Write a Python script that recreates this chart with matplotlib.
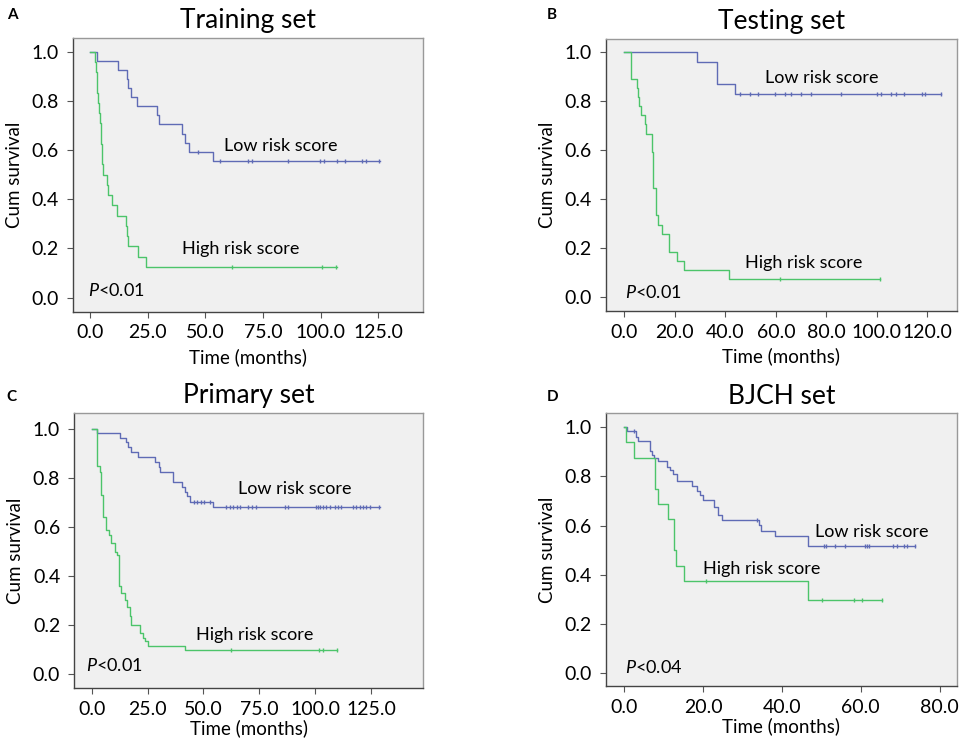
import matplotlib
matplotlib.use("Agg")
import matplotlib.pyplot as plt

plt.rcParams['font.family'] = ['Lato', 'DejaVu Sans']
plt.rcParams['mathtext.fontset'] = 'custom'
plt.rcParams['mathtext.rm'] = 'Lato'
plt.rcParams['mathtext.it'] = 'Lato:italic'

azul = '#5f6bb5'
verde = '#4cc46a'

# A - Training set
tA_low = [0, 2.8, 12.2, 15.8, 16.3, 17.5, 20.4, 29.1, 29.8, 39.9, 41.0, 43.0, 53.4, 125.7]
sA_low = [1.0, 0.963, 0.926, 0.889, 0.852, 0.815, 0.778, 0.741, 0.704, 0.667, 0.630, 0.593, 0.556, 0.556]
cA_low = [46.9, 56.3, 68.6, 70.0, 85.9, 99.7, 101.4, 107.3, 110.5, 117.8, 119.9, 125.4]
tA_high = [0, 2.0, 2.4, 2.8, 3.1, 3.4, 3.8, 4.3, 4.5, 4.7, 4.9, 5.2, 5.4, 7.1, 7.8, 9.3, 11.5, 15.4, 16.0, 16.2, 20.8, 24.2, 106.9]
sA_high = [1.0, 0.958, 0.917, 0.875, 0.833, 0.792, 0.750, 0.708, 0.667, 0.625, 0.583, 0.542, 0.500, 0.458, 0.417, 0.375, 0.333, 0.292, 0.250, 0.208, 0.167, 0.125, 0.125]
cA_high = [61.6, 100.5, 106.5]

# B - Testing set
tB_low = [0, 28.7, 36.8, 43.9, 125.3]
sB_low = [1.0, 0.957, 0.870, 0.826, 0.826]
cB_low = [45.6, 49.6, 52.9, 59.5, 63.8, 65.8, 70.0, 74.0, 85.9, 99.9, 101.7, 105.8, 107.7, 110.7, 118.0, 118.9, 125.3]
tB_high = [0, 2.5, 4.8, 5.3, 5.7, 6.5, 8.1, 8.7, 10.8, 11.5, 12.4, 13.5, 14.8, 17.7, 20.8, 23.6, 41.5, 101.1]
sB_high = [1.0, 0.889, 0.852, 0.815, 0.778, 0.741, 0.704, 0.667, 0.593, 0.444, 0.333, 0.296, 0.259, 0.185, 0.148, 0.111, 0.074, 0.074]
cB_high = [61.8, 101.1]

# C - Primary set
tC_low = [0, 2.5, 12.8, 15.5, 16.3, 17.7, 20.7, 28.2, 30.1, 30.7, 36.4, 40.6, 41.6, 42.7, 43.9, 54.3, 128.9]
sC_low = [1.0, 0.981, 0.961, 0.944, 0.924, 0.904, 0.883, 0.863, 0.843, 0.822, 0.782, 0.764, 0.744, 0.724, 0.702, 0.680, 0.680]
cC_low = [45.8, 47.2, 48.7, 50.2, 52.8, 60.3, 61.8, 63.2, 65.0, 66.5, 70.0, 71.7, 73.7, 86.4, 87.9,
          100.2, 101.3, 102.3, 103.5, 105.0, 106.5, 108.7, 110.2, 111.7, 116.9, 118.4, 119.9, 121.4, 122.9, 124.4, 128.6]
tC_high = [0, 2.5, 3.6, 4.3, 5.1, 6.6, 7.6, 8.8, 10.3, 11.3, 12.1, 13.3, 14.8, 16.0, 17.0, 17.8, 21.5, 23.0, 24.0, 25.2, 41.6, 109.8]
sC_high = [1.0, 0.846, 0.825, 0.730, 0.642, 0.588, 0.568, 0.534, 0.500, 0.487, 0.358, 0.331, 0.304, 0.276, 0.236, 0.202, 0.168, 0.148, 0.137, 0.117, 0.098, 0.098]
cC_high = [62.5, 101.6, 103.5, 109.8]

# D - BJCH set
tD_low = [0, 0.8, 3.0, 3.4, 6.6, 7.0, 7.7, 8.7, 11.0, 11.7, 12.5, 13.4, 17.2, 18.4, 19.3, 19.9, 22.7, 23.9, 24.9, 34.1, 34.8, 38.3, 46.6, 73.8]
sD_low = [1.0, 0.984, 0.959, 0.942, 0.905, 0.885, 0.876, 0.862, 0.838, 0.824, 0.808, 0.781, 0.759, 0.741, 0.723, 0.703, 0.676, 0.642, 0.622, 0.601, 0.578, 0.558, 0.518, 0.518]
cD_low = [2.4, 33.7, 50.8, 51.2, 53.5, 55.9, 61.0, 61.6, 62.0, 68.1, 69.3, 71.1, 71.7, 73.8]
tD_high = [0, 0.4, 2.5, 7.9, 8.7, 11.2, 12.7, 13.2, 15.2, 46.6, 65.5]
sD_high = [1.0, 0.938, 0.875, 0.750, 0.688, 0.625, 0.500, 0.438, 0.375, 0.300, 0.300]
cD_high = [20.8, 50.3, 58.4, 60.3, 65.5]


def nivel(t, s, c):
    # valor da curva nos tempos censurados
    out = []
    for ci in c:
        v = s[0]
        for ti, si in zip(t, s):
            if ti <= ci:
                v = si
        out.append(v)
    return out


def painel(pos, letra, letra_xy, titulo, curvas, xlim, ylim, xticks, xfmt, textos, pval, lpad):
    ax = fig.add_axes(pos)
    ax.set_facecolor('#f0f0f0')
    for (t, s, c, cor) in curvas:
        ax.plot(t, s, drawstyle='steps-post', color=cor, lw=1.0)
        ax.plot(c, nivel(t, s, c), ls='none', marker='|', ms=3, mew=1.0, color=cor)
    ax.set_xlim(*xlim)
    ax.set_ylim(*ylim)
    ax.set_xticks(xticks)
    ax.set_xticklabels([xfmt % v for v in xticks])
    ax.set_yticks([0, 0.2, 0.4, 0.6, 0.8, 1.0])
    ax.set_yticklabels(['0.0', '0.2', '0.4', '0.6', '0.8', '1.0'])
    ax.tick_params(labelsize=14, length=4, width=0.8, color='#555555', pad=6)
    ax.tick_params(axis='x', pad=5)
    for lado in ['left', 'bottom']:
        ax.spines[lado].set_color('#444444')
    for lado in ['right', 'top']:
        ax.spines[lado].set_color('#999999')
    for sp in ax.spines.values():
        sp.set_linewidth(1.0)
    ax.set_xlabel('Time (months)', fontsize=13.5, labelpad=lpad)
    ax.set_ylabel('Cum survival', fontsize=13.5, labelpad=6)
    ax.set_title(titulo, fontsize=19, pad=7)
    for (x, y, txt) in textos:
        ax.text(x, y, txt, fontsize=13, ha='left', va='center')
    ax.text(pval[0], pval[1], r'$\it{P}$' + pval[2], fontsize=13, ha='left', va='center')
    fig.text(letra_xy[0], letra_xy[1], letra, fontsize=11, fontweight='bold', ha='left', va='center')
    return ax


fig = plt.figure(figsize=(9.64, 7.41), dpi=100)

painel([0.0757, 0.579, 0.363, 0.370], 'A', (0.007, 0.980), 'Training set',
       [(tA_low, sA_low, cA_low, azul), (tA_high, sA_high, cA_high, verde)],
       (-7.5, 144.4), (-0.058, 1.056), [0, 25, 50, 75, 100, 125], '%.1f',
       [(58, 0.615, 'Low risk score'), (40, 0.197, 'High risk score')], (-0.9, 0.03, '<0.01'), 5)

painel([0.6286, 0.580, 0.364, 0.368], 'B', (0.567, 0.980), 'Testing set',
       [(tB_low, sB_low, cB_low, azul), (tB_high, sB_high, cB_high, verde)],
       (-7.3, 131.7), (-0.057, 1.054), [0, 20, 40, 60, 80, 100, 120], '%.1f',
       [(55.8, 0.892, 'Low risk score'), (47.9, 0.14, 'High risk score')], (0.3, 0.02, '<0.01'), 5)

painel([0.0768, 0.0715, 0.362, 0.371], 'C', (0.007, 0.464), 'Primary set',
       [(tC_low, sC_low, cC_low, azul), (tC_high, sC_high, cC_high, verde)],
       (-7.9, 148.2), (-0.055, 1.063), [0, 25, 50, 75, 100, 125], '%.1f',
       [(65.6, 0.753, 'Low risk score'), (46.5, 0.161, 'High risk score')], (-2.7, 0.035, '<0.01'), 1.5)

painel([0.6286, 0.0742, 0.364, 0.368], 'D', (0.567, 0.464), 'BJCH set',
       [(tD_low, sD_low, cD_low, azul), (tD_high, sD_high, cD_high, verde)],
       (-4.6, 84.4), (-0.051, 1.056), [0, 20, 40, 60, 80], '%.1f',
       [(48.3, 0.574, 'Low risk score'), (19.9, 0.424, 'High risk score')], (0.1, 0.025, '<0.04'), 1.5)

fig.savefig('out.png', dpi=100)
